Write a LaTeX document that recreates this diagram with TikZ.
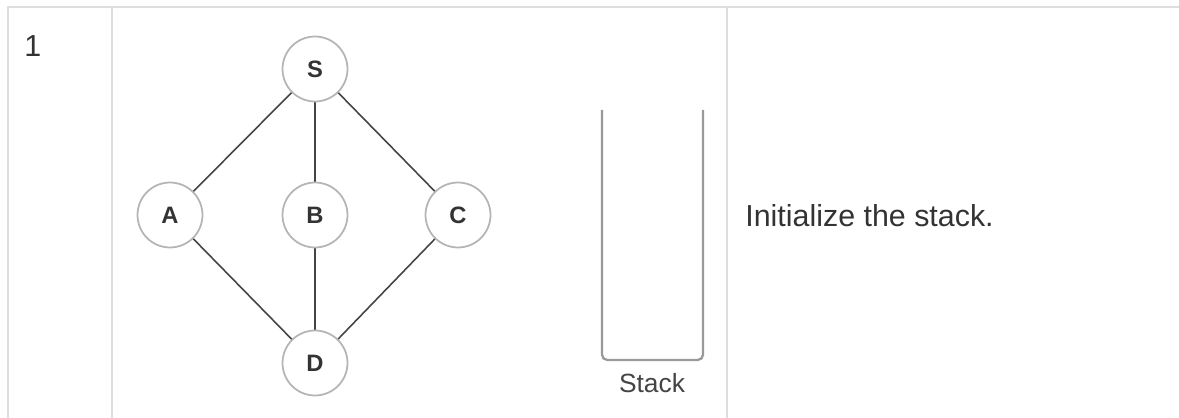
\documentclass[tikz,border=0pt]{standalone}
\usepackage{fontspec}
\setmainfont{Liberation Sans}
\usetikzlibrary{positioning}
\definecolor{rulegray}{HTML}{DDDDDD}
\definecolor{ringgray}{HTML}{B5B5B5}
\definecolor{edgegray}{HTML}{444444}
\definecolor{stackgray}{HTML}{999999}
\definecolor{textgray}{HTML}{333333}
\tikzset{
  vertex/.style={circle, draw=ringgray, line width=1pt, fill=white, minimum size=1.3cm, inner sep=0pt, font=\fontsize{13.5}{15}\selectfont\bfseries, text=textgray},
  edge/.style={draw=edgegray, line width=0.9pt},
  rule/.style={draw=rulegray, line width=1.5pt},
  celltext/.style={inner sep=0pt, font=\fontsize{17.3}{20}\selectfont, text=textgray}
}
\begin{document}
\begin{tikzpicture}[x=0.02cm, y=-0.02cm]
  \useasboundingbox (0,0) rectangle (1179,418);
  \coordinate (tl) at (8,7);
  \coordinate (tr) at (1179,7);
  \coordinate (bl) at (8,418);
  \coordinate (d1t) at (112,7);
  \coordinate (d1b) at (112,418);
  \coordinate (d2t) at (727,7);
  \coordinate (d2b) at (727,418);
  \draw[rule] (bl) -- (tl) -- (tr);
  \draw[rule] (d1t) -- (d1b);
  \draw[rule] (d2t) -- (d2b);
  \node[celltext, anchor=base west] (step) at (24,57) {1};
  \coordinate (s) at (315,69);
  \coordinate (a) at (170,215);
  \coordinate (b) at (315,215);
  \coordinate (c) at (458,215);
  \coordinate (d) at (315,363);
  \draw[edge] (s) -- (a);
  \draw[edge] (s) -- (b);
  \draw[edge] (s) -- (c);
  \draw[edge] (a) -- (d);
  \draw[edge] (b) -- (d);
  \draw[edge] (c) -- (d);
  \node[vertex] (S) at (s) {S};
  \node[vertex] (A) at (a) {A};
  \node[vertex] (B) at (b) {B};
  \node[vertex] (C) at (c) {C};
  \node[vertex] (D) at (d) {D};
  \coordinate (stl) at (602,110);
  \coordinate (str) at (703,110);
  \draw[stackgray, line width=1.3pt, rounded corners=3pt] (stl) -- (602,360) -- (703,360) -- (str);
  \node[inner sep=0pt, anchor=base, font=\fontsize{15}{17}\selectfont, text=edgegray] (stacklabel) at (652,392) {Stack};
  \node[celltext, anchor=base west] (desc) at (745,227) {Initialize the stack.};
\end{tikzpicture}
\end{document}
